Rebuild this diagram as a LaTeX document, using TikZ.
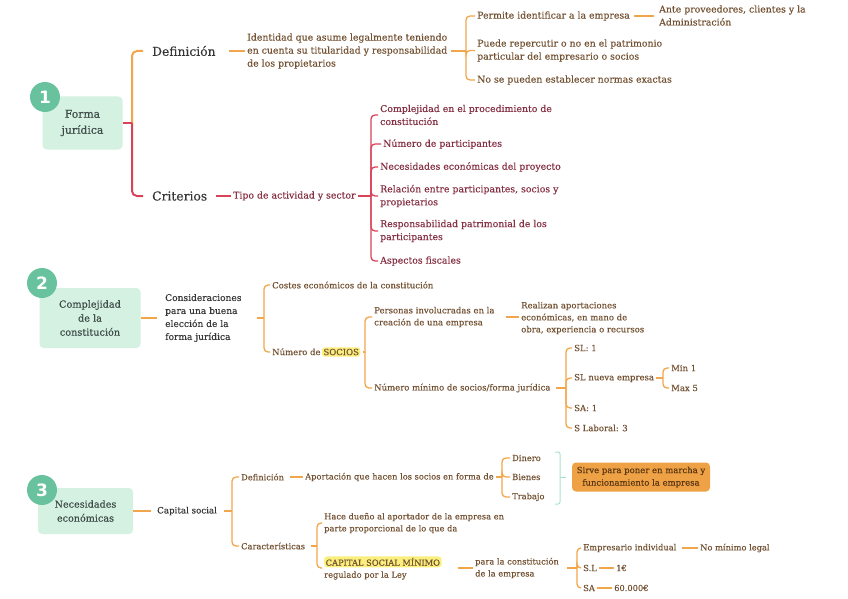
\documentclass[tikz,border=0pt]{standalone}
\usepackage{fontspec}
\setmainfont{DejaVu Serif}[FakeBold=0.25]
\newfontfamily\numfont{DejaVu Sans}
\definecolor{orn}{HTML}{F2A64B}
\definecolor{redl}{HTML}{DA4258}
\definecolor{brn}{HTML}{735233}
\definecolor{mar}{HTML}{853043}
\definecolor{dgr}{HTML}{363636}
\definecolor{boxg}{HTML}{D4F1E2}
\definecolor{circg}{HTML}{67C29D}
\definecolor{boxt}{HTML}{3E4B47}
\definecolor{hly}{HTML}{FAEE7C}
\definecolor{obox}{HTML}{EFA245}
\definecolor{oboxt}{HTML}{5A3612}
\definecolor{mint}{HTML}{A9E2CB}
\newcommand{\hlt}[1]{\tikz[baseline=(hx.base)]\node[fill=hly,rounded corners=3pt,inner xsep=1.5pt,inner ysep=1.5pt,anchor=base](hx){#1};}
\begin{document}
\begin{tikzpicture}[x=1pt,y=-1pt,
 txt/.style={anchor=west, inner xsep=2pt, inner ysep=1pt, align=left},
 sA/.style={txt, font=\fontsize{9.35}{13}\selectfont, text=brn},
 sR/.style={txt, font=\fontsize{9.35}{13}\selectfont, text=mar},
 sB/.style={txt, font=\fontsize{8.5}{12}\selectfont, text=brn},
 sC/.style={txt, font=\fontsize{8.3}{12}\selectfont, text=brn},
 big/.style={txt, font=\fontsize{12.3}{15}\selectfont, text=dgr},
 mid/.style={txt, font=\fontsize{9.1}{13}\selectfont, text=dgr},
 topic/.style={fill=boxg, rounded corners=4pt, align=center, text=boxt, inner sep=0pt},
 num/.style={circle, fill=circg, minimum size=30pt, inner sep=0pt, text=white, font=\numfont\bfseries\fontsize{17}{17}\selectfont},
 ol/.style={draw=orn, line width=1.3pt, rounded corners=4pt},
 olm/.style={draw=orn, line width=2pt, rounded corners=5pt},
 rl/.style={draw=redl, line width=1.3pt, rounded corners=4pt},
 rlm/.style={draw=redl, line width=2pt, rounded corners=5pt},
 brk/.style={draw=mint, line width=1pt, rounded corners=2pt}
]
\useasboundingbox (0,0) rectangle (848,599);

% ---------------- Section 1
\node[topic, minimum width=80pt, minimum height=53pt, font=\fontsize{10.8}{16}\selectfont] (t1) at (82.5,123) {Forma\\jurídica};
\node[num] (n1) at (45,97) {1};
\node[big] (def1) at (150,51) {Definición};
\node[sA] (idef) at (245,51) {Identidad que asume legalmente teniendo\\en cuenta su titularidad y responsabilidad\\de los propietarios};
\node[sA] (perm) at (475,16) {Permite identificar a la empresa};
\node[sA] (ante) at (657,15.5) {Ante proveedores, clientes y la\\Administración};
\node[sA] (pued) at (475,50.5) {Puede repercutir o no en el patrimonio\\particular del empresario o socios};
\node[sA] (nose) at (475,80) {No se pueden establecer normas exactas};
\node[big] (crit) at (150,196) {Criterios};
\node[sR] (tipo) at (231,196) {Tipo de actividad y sector};
\node[sR] (c1) at (378,115) {Complejidad en el procedimiento de\\constitución};
\node[sR] (c2) at (381,144) {Número de participantes};
\node[sR] (c3) at (378,167) {Necesidades económicas del proyecto};
\node[sR] (c4) at (378,196) {Relación entre participantes, socios y\\propietarios};
\node[sR] (c5) at (378,231) {Responsabilidad patrimonial de los\\participantes};
\node[sR] (c6) at (378,261) {Aspectos fiscales};

\coordinate (j0) at (132,123);
\coordinate (j1) at (466,51);
\coordinate (j2) at (371,196);

\draw[olm, shorten >=7pt] (j0) |- (def1.west);
\draw[rlm] (t1.east) -- (j0);
\draw[rlm, shorten >=7pt] (j0) |- (crit.west);
\draw[ol, shorten <=11pt] (def1.east) -- (idef.west);
\draw[ol, shorten <=2pt] (idef.east) -- (j1);
\foreach \c in {perm,pued,nose} \draw[ol] (j1) |- (\c.west);
\draw[ol, shorten <=2pt, shorten >=3pt] (perm.east) -- (perm.east -| ante.west);
\draw[rl, shorten <=7pt] (crit.east) -- (tipo.west);
\draw[rl] (tipo.east) -- (j2);
\foreach \c in {c1,c2,c3,c4,c5,c6} \draw[rl] (j2) |- (\c.west);

% ---------------- Section 2
\node[topic, minimum width=101pt, minimum height=60pt, font=\fontsize{9.7}{14}\selectfont] (t2) at (90,318) {Complejidad\\de la\\constitución};
\node[num] (n2) at (42,283) {2};
\node[mid] (cons) at (163,318) {Consideraciones\\para una buena\\elección de la\\forma jurídica};
\node[sB] (cost) at (270,285) {Costes económicos de la constitución};
\node[sB] (nsoc) at (270,352) {Número de\,\hlt{SOCIOS}};
\node[sB] (pers) at (372,317) {Personas involucradas en la\\creación de una empresa};
\node[sB] (real) at (519,318) {Realizan aportaciones\\económicas, en mano de\\obra, experiencia o recursos};
\node[sB] (nmin) at (372,388) {Número mínimo de socios/forma jurídica};
\node[sB] (s1) at (572,348) {SL: 1};
\node[sB] (s2) at (572,378) {SL nueva empresa};
\node[sB] (s3) at (572,408) {SA: 1};
\node[sB] (s4) at (572,428) {S Laboral: 3};
\node[sB] (m1) at (669,368) {Min 1};
\node[sB] (m2) at (669,388) {Max 5};

\coordinate (j3) at (264,318);
\coordinate (j4) at (365,352);
\coordinate (j5) at (566,388);
\coordinate (j6) at (663,378);

\draw[ol, shorten >=6pt] (t2.east) -- (cons.west);
\draw[ol, shorten <=13pt] (cons.east) -- (j3);
\foreach \c in {cost,nsoc} \draw[ol] (j3) |- (\c.west);
\draw[ol] (nsoc.east) -- (j4);
\foreach \c in {pers,nmin} \draw[ol] (j4) |- (\c.west);
\draw[ol, shorten <=9pt] (pers.east) -- (pers.east -| real.west);
\draw[ol, shorten <=3pt] (nmin.east) -- (j5);
\foreach \c in {s1,s2,s3,s4} \draw[ol] (j5) |- (\c.west);
\draw[ol] (s2.east) -- (j6);
\foreach \c in {m1,m2} \draw[ol] (j6) |- (\c.west);

% ---------------- Section 3
\node[topic, minimum width=95pt, minimum height=46pt, font=\fontsize{9.6}{14}\selectfont] (t3) at (85.5,511) {Necesidades\\económicas};
\node[num] (n3) at (42,490) {3};
\node[mid, font=\fontsize{8.7}{12}\selectfont] (cap) at (155,511) {Capital social};
\node[sC] (d3) at (239,477) {Definición};
\node[sC] (car) at (239,546) {Características};
\node[sC] (apor) at (303,477) {Aportación que hacen los socios en forma de};
\node[sC] (din) at (510,458) {Dinero};
\node[sC] (bie) at (510,477) {Bienes};
\node[sC] (tra) at (510,497) {Trabajo};
\node[fill=obox, rounded corners=4pt, minimum width=138pt, minimum height=29pt, align=center, inner sep=0pt, text=oboxt, font=\fontsize{8.5}{12.5}\selectfont] (sirve) at (641,477) {Sirve para poner en marcha y\\funcionamiento la empresa};
\node[sC] (hace) at (322,523) {Hace dueño al aportador de la empresa en\\parte proporcional de lo que da};
\node[sC] (cmin) at (322,568) {\hlt{CAPITAL SOCIAL MÍNIMO}\\regulado por la Ley};
\node[sC] (para) at (473,568) {para la constitución\\de la empresa};
\node[sC] (emp) at (581,548) {Empresario individual};
\node[sC] (nml) at (698,548) {No mínimo legal};
\node[sC] (sl) at (581,568) {S.L};
\node[sC] (one) at (614,568) {1€};
\node[sC] (sa) at (581,588) {SA};
\node[sC] (sixty) at (612,588) {60.000€};

\coordinate (j7) at (232,511);
\coordinate (j8) at (502,477);
\coordinate (j9) at (317,546);
\coordinate (j10) at (577,568);
\coordinate (bk1) at (555,452);
\coordinate (bk2) at (560,477);
\coordinate (bk3) at (555,504);

\draw[ol, shorten >=4pt] (t3.east) -- (cap.west);
\draw[ol, shorten <=5pt] (cap.east) -- (j7);
\foreach \c in {d3,car} \draw[ol] (j7) |- (\c.west);
\draw[ol, shorten <=4pt] (d3.east) -- (apor.west);
\draw[ol] (apor.east) -- (j8);
\foreach \c in {din,bie,tra} \draw[ol] (j8) |- (\c.west);
\draw[brk] (bk1) -| (bk2) |- (bk3);
\draw[brk] (bk2) -- ++(6,0);
\draw[ol, shorten <=4pt] (car.east) -- (j9);
\foreach \c in {hace,cmin} \draw[ol] (j9) |- (\c.west);
\draw[ol, shorten <=14pt] (cmin.east) -- (para.west);
\draw[ol, shorten <=6pt] (para.east) -- (j10);
\foreach \c in {emp,sl,sa} \draw[ol] (j10) |- (\c.west);
\draw[ol, shorten <=3pt] (emp.east) -- (nml.west);
\draw[ol] (sl.east) -- (one.west);
\draw[ol] (sa.east) -- (sixty.west);
\end{tikzpicture}
\end{document}
